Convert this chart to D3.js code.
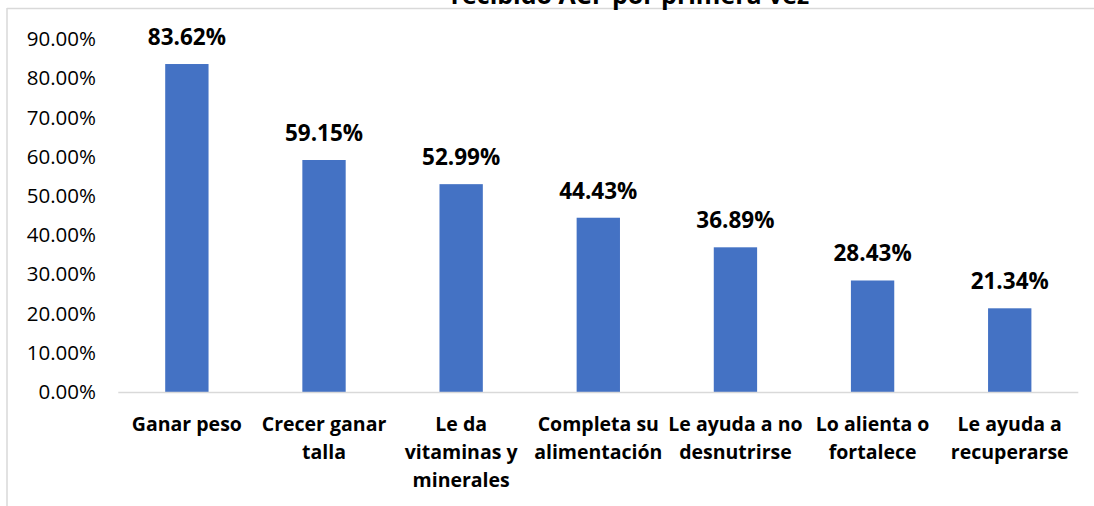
<!DOCTYPE html>
<html>
<head>
<meta charset="utf-8">
<script src="https://cdn.jsdelivr.net/npm/d3@7"></script>
<style>
  body { margin: 0; background: #fff; }
  svg { display: block; font-family: "Open Sans", sans-serif; }
</style>
</head>
<body>
<svg id="chart" width="1094" height="506"></svg>
<script>
// categories (line breaks as they wrap in the picture)
const categories = [
  "Ganar peso",
  "Crecer ganar\ntalla",
  "Le da\nvitaminas y\nminerales",
  "Completa su\nalimentación",
  "Le ayuda a no\ndesnutrirse",
  "Lo alienta o\nfortalece",
  "Le ayuda a\nrecuperarse"
];
const values = [83.62, 59.15, 52.99, 44.43, 36.89, 28.43, 21.34];
const yTicks = [0, 10, 20, 30, 40, 50, 60, 70, 80, 90];
const title = "recibido ACF por primera vez";

const svg = d3.select("#chart");

// chart frame (only the top and left edges show in the crop)
svg.append("line").attr("x1", 7).attr("x2", 1094).attr("y1", 8.5).attr("y2", 8.5)
  .style("stroke", "#d9d9d9").style("stroke-width", 1.5);
svg.append("line").attr("x1", 7).attr("x2", 7).attr("y1", 8).attr("y2", 506)
  .style("stroke", "#d9d9d9").style("stroke-width", 1.5);

// title is cropped at the top edge in the source image
svg.append("text")
  .attr("x", 630).attr("y", 4)
  .attr("text-anchor", "middle")
  .style("font-weight", "bold").style("font-size", "25px")
  .text(title);

let x = d3.scaleBand()
  .domain(categories)
  .range([118.3, 1078.3])
  .paddingInner(0.684)
  .paddingOuter(0.342);

let y = d3.scaleLinear()
  .domain([0, 90])
  .range([392, 39]);

// y axis labels, no line
let yAxis = svg.append("g")
  .attr("transform", "translate(104,0)")
  .call(d3.axisLeft(y).tickValues(yTicks).tickSize(0).tickPadding(8)
    .tickFormat(d => d.toFixed(2) + "%"));
yAxis.select(".domain").remove();
yAxis.selectAll("text")
  .style("font-family", "'Open Sans', sans-serif")
  .style("font-size", "20.5px")
  .style("fill", "#000");

svg.selectAll("rect.bar")
  .data(values)
  .enter()
  .append("rect")
  .attr("class", "bar")
  .attr("x", (d, i) => x(categories[i]))
  .attr("y", d => y(d))
  .attr("width", x.bandwidth())
  .attr("height", d => y(0) - y(d))
  .style("fill", "#4472c4");

// baseline
svg.append("line")
  .attr("x1", 118.3).attr("x2", 1078.3)
  .attr("y1", y(0) + 0.5).attr("y2", y(0) + 0.5)
  .style("stroke", "#d9d9d9").style("stroke-width", 1.5);

// value labels
svg.selectAll("text.val")
  .data(values)
  .enter()
  .append("text")
  .attr("class", "val")
  .attr("x", (d, i) => x(categories[i]) + x.bandwidth() / 2)
  .attr("y", d => y(d) - 19)
  .attr("text-anchor", "middle")
  .style("font-weight", "bold").style("font-size", "22.5px")
  .text(d => d.toFixed(2) + "%");

// category labels
let cat = svg.selectAll("text.cat")
  .data(categories)
  .enter()
  .append("text")
  .attr("class", "cat")
  .attr("text-anchor", "middle")
  .style("font-weight", "bold").style("font-size", "19.5px")
  .attr("transform", d => "translate(" + (x(d) + x.bandwidth() / 2) + ",431)");

cat.selectAll("tspan")
  .data(d => d.split("\n"))
  .enter()
  .append("tspan")
  .attr("x", 0)
  .attr("dy", (d, i) => i ? 28 : 0)
  .text(d => d);
</script>
</body>
</html>
